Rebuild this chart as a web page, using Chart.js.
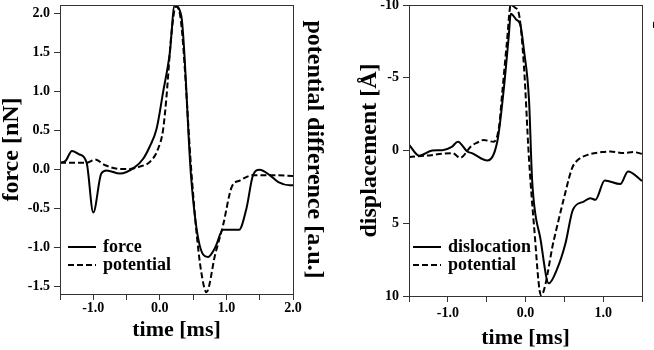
<!DOCTYPE html>
<html>
<head>
<meta charset="utf-8">
<script src="https://cdn.jsdelivr.net/npm/chart.js@4.4.0/dist/chart.umd.min.js"></script>
<style>
  html, body { margin: 0; padding: 0; background: #fff; overflow: hidden; }
  body { width: 654px; height: 350px; position: relative; }
  #forceChart { position: absolute; left: 0; top: 0; }
  #dislChart { position: absolute; left: 330px; top: 0; }
</style>
</head>
<body>
<canvas id="forceChart" width="330" height="350"></canvas>
<canvas id="dislChart" width="360" height="350"></canvas>
<script>
const FONT = 'Liberation Serif';

// left panel: force and potential vs time
const forceTime = [-1.5, -1.42, -1.32, -1.22, -1.1, -1.0, -0.88, -0.8, -0.6, -0.38, -0.25, -0.15, -0.05, 0.05, 0.15, 0.22, 0.32, 0.47, 0.58, 0.72, 0.83, 0.95, 1.19, 1.3, 1.4, 1.5, 1.65, 1.78, 1.95, 2.0];
const forceValue = [0.09, 0.11, 0.24, 0.2, 0.09, -0.55, -0.05, -0.01, -0.05, 0.03, 0.14, 0.3, 0.52, 1.0, 1.5, 2.1, 1.98, -0.1, -0.9, -1.12, -1.0, -0.77, -0.77, -0.5, -0.07, 0.0, -0.07, -0.16, -0.2, -0.2];
const forcePotTime = [-1.5, -1.1, -0.97, -0.83, -0.6, -0.45, -0.3, -0.15, -0.03, 0.05, 0.1, 0.175, 0.24, 0.3, 0.48, 0.55, 0.62, 0.7, 0.83, 0.95, 1.08, 1.2, 1.4, 1.65, 2.0];
const forcePotValue = [0.09, 0.09, 0.13, 0.06, 0.01, 0.01, 0.04, 0.1, 0.26, 0.52, 0.94, 1.75, 2.09, 2.0, -0.1, -0.8, -1.3, -1.57, -1.09, -0.71, -0.22, -0.14, -0.07, -0.07, -0.08];
const forceXTicks = [-1.5, -1.0, -0.5, 0.0, 0.5, 1.0, 1.5, 2.0];
const forceXLabels = ['', '-1.0', '', '0.0', '', '1.0', '', '2.0'];
const forceYTicks = [-1.5, -1.0, -0.5, 0.0, 0.5, 1.0, 1.5, 2.0];
const forceYLabels = ['-1.5', '-1.0', '-0.5', '0.0', '0.5', '1.0', '1.5', '2.0'];

// right panel: dislocation and potential vs time
const dislTime = [-1.5, -1.37, -1.2, -1.07, -0.95, -0.87, -0.75, -0.69, -0.49, -0.36, -0.28, -0.215, -0.19, -0.12, -0.065, -0.02, 0.045, 0.086, 0.195, 0.3, 0.41, 0.515, 0.61, 0.75, 0.835, 0.9, 1.02, 1.22, 1.32, 1.5];
const dislValue = [-0.4, 0.36, 0.0, -0.02, -0.25, -0.6, 0.07, 0.18, 0.69, -0.7, -4.2, -7.9, -9.4, -9.0, -8.6, -6.9, -3.5, 2.1, 6.15, 9.13, 8.1, 6.37, 4.08, 3.51, 3.28, 3.39, 2.06, 2.31, 1.44, 2.09];
const dislPotTime = [-1.5, -1.29, -0.94, -0.84, -0.7, -0.62, -0.54, -0.41, -0.34, -0.3, -0.24, -0.19, -0.13, -0.085, -0.02, 0.043, 0.11, 0.2, 0.365, 0.49, 0.6, 0.665, 0.8, 0.985, 1.09, 1.265, 1.39, 1.5];
const dislPotValue = [0.45, 0.36, 0.18, 0.5, -0.3, -0.55, -0.72, -0.6, -1.65, -3.95, -7.4, -10.0, -9.8, -9.4, -5.8, 0.4, 5.2, 9.95, 6.15, 3.39, 1.21, 0.69, 0.3, 0.11, 0.07, 0.18, 0.11, 0.23];
const dislXTicks = [-1.5, -1.0, -0.5, 0.0, 0.5, 1.0, 1.5];
const dislXLabels = ['', '-1.0', '', '0.0', '', '1.0', ''];
const dislYTicks = [-10, -5, 0, 5, 10];
const dislYLabels = ['-10', '-5', '0', '5', '10'];

function points(xs, ys) {
  return xs.map((x, i) => ({x: x, y: ys[i]}));
}

function line(label, xs, ys, dash) {
  return {
    label: label,
    data: points(xs, ys),
    borderColor: '#000',
    borderWidth: 2,
    borderDash: dash,
    pointRadius: 0,
    fill: false,
    cubicInterpolationMode: 'monotone'
  };
}

// frame round the plot area and the legend inside it
const frameLegend = {
  id: 'frameLegend',
  afterDatasetsDraw(chart, args, opts) {
    const ctx = chart.ctx;
    const a = chart.chartArea;
    ctx.save();
    ctx.strokeStyle = '#333';
    ctx.lineWidth = 1;
    ctx.setLineDash([]);
    ctx.strokeRect(Math.round(a.left) + 0.5, Math.round(a.top) + 0.5,
      Math.round(a.right - a.left), Math.round(a.bottom - a.top));

    ctx.font = 'bold 18px "' + FONT + '"';
    ctx.textBaseline = 'middle';
    ctx.fillStyle = '#000';
    chart.data.datasets.forEach((ds, i) => {
      const y = a.bottom - opts.rows[i];
      const x0 = a.left + opts.x;
      ctx.strokeStyle = '#000';
      ctx.lineWidth = 2;
      ctx.setLineDash(ds.borderDash || []);
      ctx.beginPath();
      ctx.moveTo(x0, y);
      ctx.lineTo(x0 + 28, y);
      ctx.stroke();
      ctx.fillText(ds.label, x0 + 35, y);
    });
    ctx.restore();
  }
};

function makeChart(id, cfg) {
  const tickFont = {family: FONT, size: 14, weight: 'bold'};
  const titleFont = {family: FONT, size: 24, weight: 'bold', lineHeight: 1};
  new Chart(document.getElementById(id), {
    type: 'line',
    data: {
      datasets: [
        line(cfg.names[0], cfg.solid[0], cfg.solid[1], []),
        line(cfg.names[1], cfg.dashed[0], cfg.dashed[1], [6, 3])
      ]
    },
    options: {
      responsive: false,
      animation: false,
      layout: {padding: {top: 5, left: 0, right: 0, bottom: 0}},
      scales: {
        x: {
          type: 'linear',
          min: cfg.xTicks[0],
          max: cfg.xTicks[cfg.xTicks.length - 1],
          afterBuildTicks: s => { s.ticks = cfg.xTicks.map(v => ({value: v})); },
          afterFit: s => { s.height = cfg.xHeight; s.paddingLeft = 0; s.paddingRight = 0; },
          ticks: {
            autoSkip: false, maxRotation: 0, padding: cfg.xPad, color: '#000', font: tickFont,
            callback: (v, i) => cfg.xLabels[i]
          },
          grid: {drawOnChartArea: false, drawTicks: true, tickLength: 6, tickColor: '#333'},
          border: {display: false},
          title: {
            display: true, text: 'time [ms]', color: '#000',
            font: {family: FONT, size: 22, weight: 'bold', lineHeight: 1},
            padding: {top: 0, bottom: cfg.xTitlePad}
          }
        },
        y: {
          type: 'linear',
          position: 'left',
          min: cfg.yMin,
          max: cfg.yMax,
          reverse: cfg.reverse,
          afterBuildTicks: s => { s.ticks = cfg.yTicks.map(v => ({value: v})); },
          afterFit: s => { s.width = cfg.yWidth; s.paddingTop = 0; s.paddingBottom = 0; },
          ticks: {
            autoSkip: false, padding: 4, color: '#000', font: tickFont,
            callback: (v, i) => cfg.yLabels[i]
          },
          grid: {drawOnChartArea: false, drawTicks: true, tickLength: 6, tickColor: '#333'},
          border: {display: false},
          title: {
            display: true, text: cfg.yTitle, color: '#000', font: titleFont,
            padding: {top: cfg.yTitlePad, bottom: 0}
          }
        },
        y2: {
          type: 'linear',
          position: 'right',
          afterFit: s => { s.width = cfg.y2Width; s.paddingTop = 0; s.paddingBottom = 0; },
          ticks: {display: false},
          grid: {display: false},
          border: {display: false},
          title: {
            display: true, text: 'potential difference [a.u.]', color: '#000', font: titleFont,
            padding: {top: cfg.y2TitlePad, bottom: 0}
          }
        }
      },
      plugins: {
        legend: {display: false},
        tooltip: {enabled: false},
        frameLegend: {x: cfg.legendX, rows: cfg.legendRows}
      }
    },
    plugins: [frameLegend]
  });
}

makeChart('forceChart', {
  names: ['force', 'potential'],
  solid: [forceTime, forceValue],
  dashed: [forcePotTime, forcePotValue],
  xTicks: forceXTicks, xLabels: forceXLabels,
  yTicks: forceYTicks, yLabels: forceYLabels,
  yMin: -1.593, yMax: 2.11, reverse: false,
  yTitle: 'force [nN]',
  xHeight: 56, xPad: 0, xTitlePad: 9,
  yWidth: 60, yTitlePad: 0,
  y2Width: 37, y2TitlePad: 4,
  legendX: 8, legendRows: [47, 29]
});

makeChart('dislChart', {
  names: ['dislocation', 'potential'],
  solid: [dislTime, dislValue],
  dashed: [dislPotTime, dislPotValue],
  xTicks: dislXTicks, xLabels: dislXLabels,
  yTicks: dislYTicks, yLabels: dislYLabels,
  yMin: -10, yMax: 10, reverse: true,
  yTitle: 'displacement [\u00C5]',
  xHeight: 54, xPad: 3, xTitlePad: 1,
  yWidth: 79, yTitlePad: 28,
  y2Width: 48, y2TitlePad: 13.5,
  legendX: 4, legendRows: [49, 31]
});
</script>
</body>
</html>
